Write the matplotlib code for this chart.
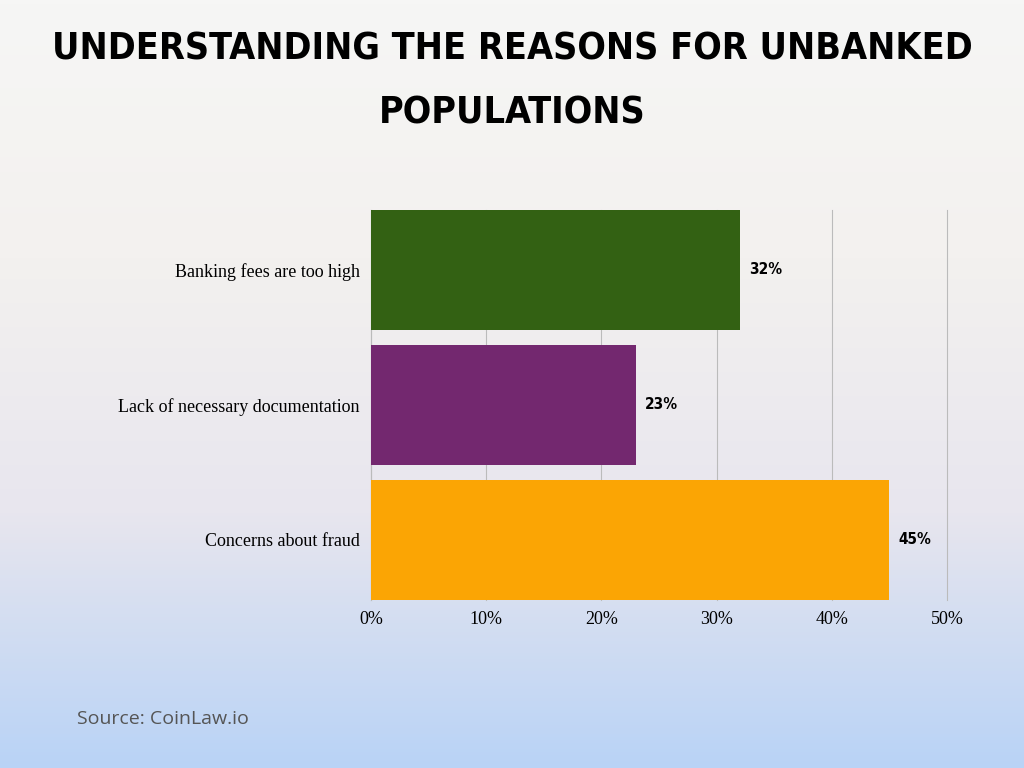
import numpy as np
import matplotlib.pyplot as plt
from matplotlib.colors import LinearSegmentedColormap

categories = ["Banking fees are too high", "Lack of necessary documentation", "Concerns about fraud"]
values = [32, 23, 45]
colors = ["#336113", "#73286f", "#fba504"]
ticks = [0, 10, 20, 30, 40, 50]

fig = plt.figure(figsize=(10.24, 7.68), dpi=100)

# background gradient
bg = fig.add_axes([0, 0, 1, 1], zorder=-10)
cmap = LinearSegmentedColormap.from_list("bg", ["#f6f6f5", "#f3f1ef", "#e8e6ee", "#b9d3f6"])
grad = np.linspace(0, 1, 256).reshape(-1, 1)
bg.imshow(grad, aspect="auto", cmap=cmap, extent=[0, 1, 0, 1], origin="upper")
bg.axis("off")

ax = fig.add_axes([0.3623, 0.2188, 0.5625, 0.5078])
ax.patch.set_alpha(0)
y = np.arange(len(categories))
ax.barh(y, values, height=0.889, color=colors, zorder=3)
for yi, v in zip(y, values):
    ax.text(v + 0.8, yi, f"{v}%", va="center", ha="left", fontsize=11,
            fontweight="bold", family="DejaVu Sans", fontstretch="condensed")
ax.set_ylim(2.4445, -0.4445)
ax.set_xlim(0, 50)
ax.set_xticks(ticks)
ax.set_xticklabels([f"{t}%" for t in ticks], family="Liberation Serif", fontsize=13)
ax.set_yticks(y)
ax.set_yticklabels(categories, family="Liberation Serif", fontsize=13)
ax.tick_params(length=0, pad=8)
ax.grid(axis="x", color="#bbbbbb", linewidth=0.8, zorder=0)
for gl in ax.get_xgridlines():
    gl.set_clip_on(False)
for s in ["top", "right", "bottom"]:
    ax.spines[s].set_visible(False)
ax.spines["left"].set_color("#bbbbbb")

fig.text(0.5, 0.935, "UNDERSTANDING THE REASONS FOR UNBANKED", ha="center", va="center",
         fontsize=27, fontweight="bold", family="DejaVu Sans", fontstretch="condensed")
fig.text(0.5, 0.852, "POPULATIONS", ha="center", va="center",
         fontsize=27, fontweight="bold", family="DejaVu Sans", fontstretch="condensed")
fig.text(0.075, 0.057, "Source: CoinLaw.io", fontsize=14, color="#555555", family="Open Sans")

fig.savefig("out.png", dpi=100)
